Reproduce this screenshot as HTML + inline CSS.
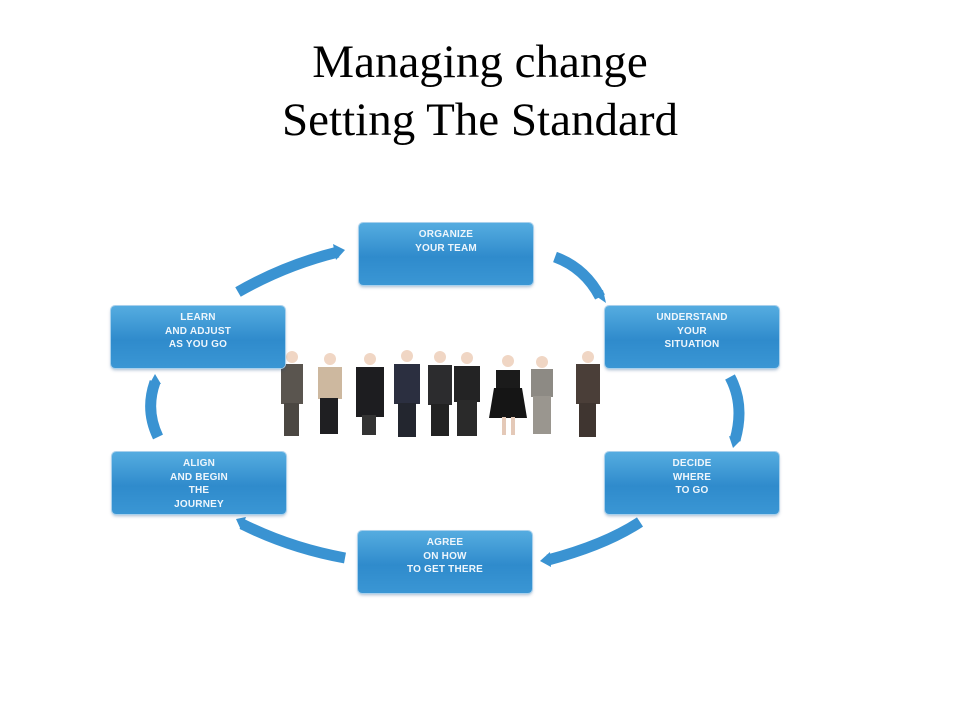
<!DOCTYPE html>
<html><head><meta charset="utf-8"><style>
html,body{margin:0;padding:0;background:#fff;}
body{width:960px;height:720px;position:relative;overflow:hidden;font-family:"Liberation Sans",sans-serif;}
.t{position:absolute;left:0;width:960px;text-align:center;font-family:"Liberation Serif",serif;font-size:47px;line-height:58px;color:#000;}
.b{position:absolute;width:174px;height:62px;border-radius:4px;background:linear-gradient(#55ace0,#2f8bcc 55%,#3a96d4);box-shadow:0 0 0 1px #a8d0ec,0 2px 3px rgba(0,60,120,.35);color:#eef6fc;font-weight:bold;font-size:10px;line-height:13.5px;text-align:center;padding-top:5px;box-sizing:border-box;letter-spacing:0.2px;}
svg{position:absolute;left:0;top:0;}
</style></head><body>
<div class="t" style="top:33px;">Managing change<br>Setting The Standard</div>

<svg width="960" height="720">
<g fill="none" stroke="#3a93d2" stroke-width="11" stroke-linecap="butt">
<path d="M238,292 Q285,265 338,252"/>
<path d="M555,257 Q585,268 600,297"/>
<path d="M730,377 Q745,405 735,440"/>
<path d="M640,522 Q605,545 548,560"/>
<path d="M345,558 Q290,548 242,524"/>
<path d="M158,437 Q145,410 155,382"/>
</g>
<g fill="#3a93d2">
<polygon points="333,244 345,250 336,260"/>
<polygon points="593,294 606,303 603,290"/>
<polygon points="729,436 741,440 733,448"/>
<polygon points="550,552 540,561 551,567"/>
<polygon points="246,517 236,519 241,530"/>
<polygon points="149,385 155,374 161,384"/>
</g>
<g>
<g fill="#f0d6c4"><circle cx="292" cy="357" r="6"/><circle cx="330" cy="359" r="6"/><circle cx="370" cy="359" r="6"/><circle cx="407" cy="356" r="6"/><circle cx="440" cy="357" r="6"/><circle cx="467" cy="358" r="6"/><circle cx="508" cy="361" r="6"/><circle cx="542" cy="362" r="6"/><circle cx="588" cy="357" r="6"/></g>
<rect x="281" y="364" width="22" height="40" fill="#5a554f"/><rect x="284" y="403" width="15" height="33" fill="#4b4742"/>
<rect x="318" y="367" width="24" height="32" fill="#cdb89f"/><rect x="320" y="398" width="18" height="36" fill="#1f1f22"/>
<rect x="356" y="367" width="28" height="50" fill="#1d1d20"/><rect x="362" y="415" width="14" height="20" fill="#333"/>
<rect x="394" y="364" width="26" height="40" fill="#2b2f40"/><rect x="398" y="403" width="18" height="34" fill="#23262f"/>
<rect x="428" y="365" width="24" height="40" fill="#2c2c2e"/><rect x="431" y="404" width="18" height="32" fill="#222"/>
<rect x="454" y="366" width="26" height="36" fill="#232324"/><rect x="457" y="400" width="20" height="36" fill="#2a2a2a"/>
<rect x="496" y="370" width="24" height="18" fill="#1b1b1b"/><polygon points="494,388 522,388 527,418 489,418" fill="#151515"/><rect x="502" y="417" width="4" height="18" fill="#e4c9b8"/><rect x="511" y="417" width="4" height="18" fill="#e4c9b8"/>
<rect x="531" y="369" width="22" height="28" fill="#8d8a84"/><rect x="533" y="396" width="18" height="38" fill="#9a968f"/>
<rect x="576" y="364" width="24" height="40" fill="#4a3e38"/><rect x="579" y="403" width="17" height="34" fill="#3f3530"/>
</g>
</svg>

<div class="b" style="left:359px;top:223px;">ORGANIZE<br>YOUR TEAM</div>
<div class="b" style="left:605px;top:306px;">UNDERSTAND<br>YOUR<br>SITUATION</div>
<div class="b" style="left:605px;top:452px;">DECIDE<br>WHERE<br>TO GO</div>
<div class="b" style="left:358px;top:531px;">AGREE<br>ON HOW<br>TO GET THERE</div>
<div class="b" style="left:112px;top:452px;">ALIGN<br>AND BEGIN<br>THE<br>JOURNEY</div>
<div class="b" style="left:111px;top:306px;">LEARN<br>AND ADJUST<br>AS YOU GO</div>
</body></html>
